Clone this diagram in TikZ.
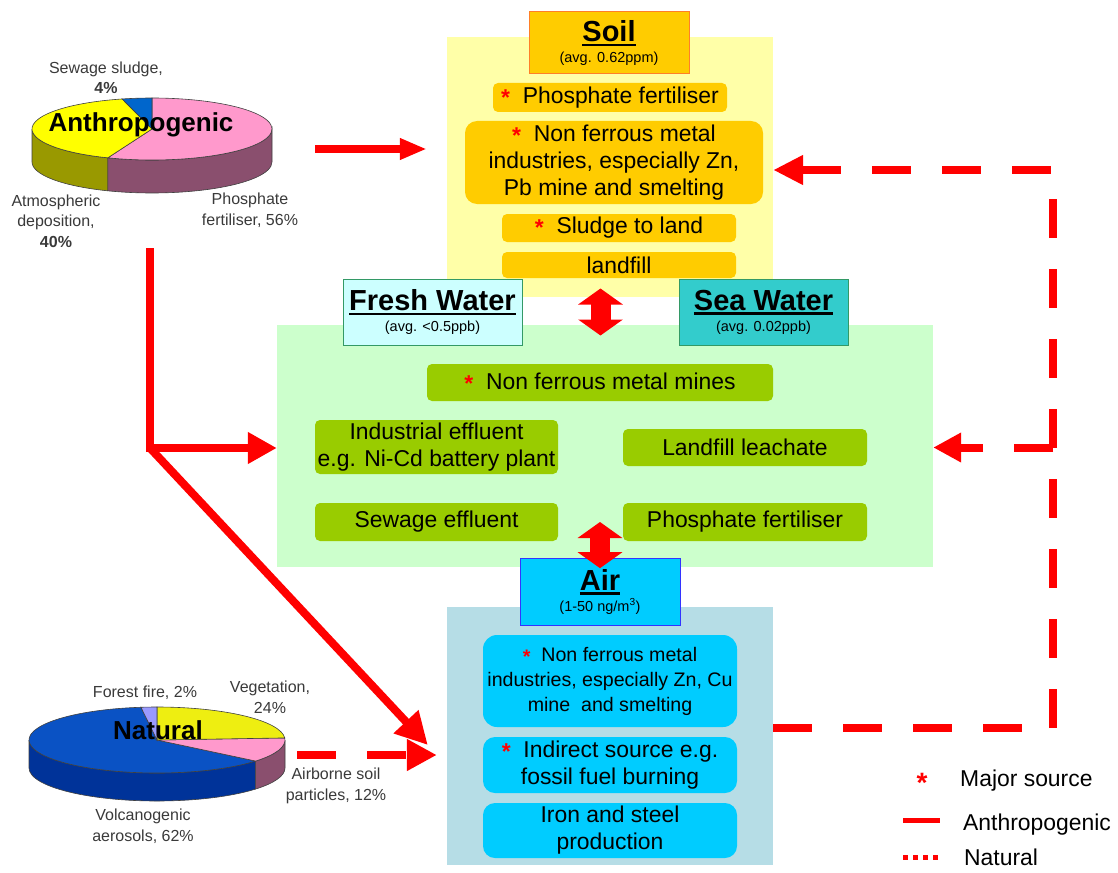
\documentclass[tikz,border=0pt]{standalone}
\usepackage{fontspec}
\setmainfont{Liberation Sans}
\usetikzlibrary{arrows.meta, calc}
\usepackage{xcolor}
\definecolor{soilBg}{HTML}{FFFFA8}
\definecolor{soilBox}{HTML}{FFCC00}
\definecolor{soilEdge}{HTML}{FF7F27}
\definecolor{waterBg}{HTML}{CCFFCC}
\definecolor{waterBox}{HTML}{99CC00}
\definecolor{freshFill}{HTML}{CCFFFF}
\definecolor{seaFill}{HTML}{33CCCC}
\definecolor{waterEdge}{HTML}{339966}
\definecolor{airBg}{HTML}{B6DDE6}
\definecolor{airBox}{HTML}{00CCFF}
\definecolor{airEdge}{HTML}{3333FF}
\definecolor{flowRed}{HTML}{FF0000}
\definecolor{labelInk}{HTML}{3A3A3A}
\definecolor{pieOlive}{HTML}{999900}
\definecolor{pieMauve}{HTML}{8A4F6E}
\definecolor{piePink}{HTML}{FF99CC}
\definecolor{pieYellow}{HTML}{FFFF00}
\definecolor{pieBlue}{HTML}{0066CC}
\definecolor{volcBlue}{HTML}{0A52C4}
\definecolor{volcSide}{HTML}{003399}
\definecolor{vegYellow}{HTML}{EEEE11}
\definecolor{fireLilac}{HTML}{9999FF}
\newlength\ttlwd
\newcommand\ttl[1]{\settowidth{\ttlwd}{#1}\rlap{\rule[-4.5pt]{\ttlwd}{2.2pt}}#1}
\newcommand\itemfont{\fontsize{22.9pt}{27pt}\selectfont}
\newcommand\subfont{\fontsize{14.5pt}{16pt}\selectfont}
\newcommand\majorsrc{\textcolor{flowRed}{\raisebox{-2pt}{\bfseries *}}\ \ }
\tikzset{
  panel/.style={fill=#1, inner sep=0pt},
  item/.style={fill=#1, rounded corners=5pt, inner sep=0pt, align=center, font=\itemfont},
  header/.style={fill=#1, line width=1pt, inner sep=0pt, align=center,
                 font=\fontsize{29pt}{21pt}\selectfont\bfseries},
  flow/.style={draw=flowRed, line width=8pt},
  natflow/.style={flow, dash pattern=on 39pt off 31pt},
  twoway/.style={draw=flowRed, line width=20pt,
                 {Triangle[width=44pt,length=16pt]}-{Triangle[width=44pt,length=16pt]}},
  pielabel/.style={font=\fontsize{16pt}{20.5pt}\selectfont, text=labelInk, align=center, inner sep=0pt},
  piename/.style={font=\fontsize{26pt}{28pt}\selectfont\bfseries, inner sep=0pt},
  rim/.style={draw=black!75, line width=0.6pt},
}

\begin{document}
\begin{tikzpicture}[x=1pt, y=1pt]
\path[use as bounding box, fill=white] (0,0) rectangle (1118,-872);

% compartments
\node[panel=soilBg, minimum width=326pt, minimum height=260pt] (soil) at (610,-167) {};
\node[panel=waterBg, minimum width=656pt, minimum height=242pt] (water) at (605,-446) {};
\node[panel=airBg, minimum width=326pt, minimum height=258pt] (air) at (610,-736) {};

\node[header=soilBox, draw=soilEdge, minimum width=160pt, minimum height=62pt] (soilT) at (609,-43)
  {\ttl{Soil}\\{\subfont\mdseries (avg. 0.62ppm)}};
\node[header=freshFill, draw=waterEdge, minimum width=179pt, minimum height=66pt] (freshT) at (432.5,-312)
  {\ttl{Fresh Water}\\{\subfont\mdseries (avg. <0.5ppb)}};
\node[header=seaFill, draw=waterEdge, minimum width=169pt, minimum height=66pt] (seaT) at (763.5,-312)
  {\ttl{Sea Water}\\{\subfont\mdseries (avg. 0.02ppb)}};
\node[header=airBox, draw=airEdge, minimum width=160pt, minimum height=67pt] (airT) at (600,-591.5)
  {\ttl{Air}\\{\subfont\mdseries (1-50 ng/m\textsuperscript{3})}};

% soil sources
\node[item=soilBox, minimum width=234pt, minimum height=29pt] (sPhos) at (610,-97.5) {\majorsrc Phosphate fertiliser};
\node[item=soilBox, rounded corners=12pt, minimum width=298pt, minimum height=83pt] (sNonf) at (614,-162.5)
  {\majorsrc Non ferrous metal\\industries, especially Zn,\\Pb mine and smelting};
\node[item=soilBox, minimum width=234pt, minimum height=28pt] (sSludge) at (619,-228) {\majorsrc Sludge to land};
\node[item=soilBox, minimum width=234pt, minimum height=26pt] (sLand) at (619,-265) {landfill};

% water sources
\node[item=waterBox, minimum width=346pt, minimum height=37pt] (wMines) at (600,-382.5) {\majorsrc Non ferrous metal mines};
\node[item=waterBox, minimum width=243pt, minimum height=54pt] (wInd) at (436.5,-447)
  {Industrial effluent\\e.g. Ni-Cd battery plant};
\node[item=waterBox, minimum width=244pt, minimum height=37pt] (wLeach) at (745,-447.5) {Landfill leachate};
\node[item=waterBox, minimum width=243pt, minimum height=38pt] (wSew) at (436.5,-522) {Sewage effluent};
\node[item=waterBox, minimum width=244pt, minimum height=38pt] (wPhos) at (745,-522) {Phosphate fertiliser};

% air sources
\node[item=airBox, rounded corners=14pt, minimum width=254pt, minimum height=92pt,
      font=\fontsize{19.6pt}{25pt}\selectfont] (aNonf) at (610,-681)
  {\majorsrc Non ferrous metal\\industries, especially Zn, Cu\\mine\ \ and smelting};
\node[item=airBox, rounded corners=12pt, minimum width=254pt, minimum height=56pt] (aInd) at (610,-765)
  {\majorsrc Indirect source e.g.\\fossil fuel burning};
\node[item=airBox, rounded corners=12pt, minimum width=254pt, minimum height=55pt] (aIron) at (610,-830.5)
  {Iron and steel\\production};

% exchange between compartments
\coordinate (gap) at ($(freshT.east)!0.5!(seaT.west)$);
\draw[twoway] ([yshift=23.5pt]gap) -- ([yshift=-23.5pt]gap);
\draw[twoway] (wSew.center -| airT.north) -- ([yshift=-1pt]water.south -| airT.north);

% anthropogenic pie
\begin{scope}[shift={(152,-129)}]
  \filldraw[rim, fill=pieOlive] (180:120 and 31) arc[start angle=180, end angle=248.4, x radius=120, y radius=31]
    -- ++(0,-33) arc[start angle=248.4, end angle=180, x radius=120, y radius=31] -- cycle;
  \filldraw[rim, fill=pieMauve] (248.4:120 and 31) arc[start angle=248.4, end angle=360, x radius=120, y radius=31]
    -- ++(0,-33) arc[start angle=360, end angle=248.4, x radius=120, y radius=31] -- cycle;
  \filldraw[rim, fill=piePink] (0,0) -- (248.4:120 and 31) arc[start angle=248.4, end angle=450, x radius=120, y radius=31] -- cycle;
  \filldraw[rim, fill=pieYellow] (0,0) -- (104.4:120 and 31) arc[start angle=104.4, end angle=248.4, x radius=120, y radius=31] -- cycle;
  \filldraw[rim, fill=pieBlue] (0,0) -- (90:120 and 31) arc[start angle=90, end angle=104.4, x radius=120, y radius=31] -- cycle;
\end{scope}
\node[piename] (anthroName) at (141,-125) {Anthropogenic};
\node[pielabel] (lblSludge) at (106,-78) {Sewage sludge,\\\textbf{4\%}};
\node[pielabel] (lblAtmos) at (56,-221) {Atmospheric\\deposition,\\\textbf{40\%}};
\node[pielabel] (lblPhos) at (250,-210) {Phosphate\\fertiliser, 56\%};

% natural pie
\begin{scope}[shift={(157,-740)}]
  \filldraw[rim, fill=volcSide] (180:128 and 33) arc[start angle=180, end angle=320.4, x radius=128, y radius=33]
    -- ++(0,-28) arc[start angle=320.4, end angle=180, x radius=128, y radius=33] -- cycle;
  \filldraw[rim, fill=pieMauve] (320.4:128 and 33) arc[start angle=320.4, end angle=360, x radius=128, y radius=33]
    -- ++(0,-28) arc[start angle=360, end angle=320.4, x radius=128, y radius=33] -- cycle;
  \filldraw[rim, fill=volcBlue] (0,0) -- (97.2:128 and 33) arc[start angle=97.2, end angle=320.4, x radius=128, y radius=33] -- cycle;
  \filldraw[rim, fill=piePink] (0,0) -- (320.4:128 and 33) arc[start angle=320.4, end angle=363.6, x radius=128, y radius=33] -- cycle;
  \filldraw[rim, fill=vegYellow] (0,0) -- (3.6:128 and 33) arc[start angle=3.6, end angle=90, x radius=128, y radius=33] -- cycle;
  \filldraw[rim, fill=fireLilac] (0,0) -- (90:128 and 33) arc[start angle=90, end angle=97.2, x radius=128, y radius=33] -- cycle;
\end{scope}
\node[piename] (natName) at (158,-730) {Natural};
\node[pielabel] (lblFire) at (145,-693) {Forest fire, 2\%};
\node[pielabel] (lblVeg) at (270,-697) {Vegetation,\\24\%};
\node[pielabel] (lblSoilPart) at (336,-786) {Airborne soil\\particles, 12\%};
\node[pielabel] (lblVolc) at (143,-826) {Volcanogenic\\aerosols, 62\%};

% anthropogenic inputs
\coordinate (anthroOut) at (315,-149);
\coordinate (anthroDown) at (150,-248);
\coordinate (split) at (150,-448);
\draw[flow, -{Triangle[width=20pt,length=27pt]}] (anthroOut) -- ([xshift=-20pt]soil.west |- anthroOut);
\draw[flow, -{Triangle[width=30pt,length=29pt]}] (anthroDown) -- (split) -- (water.west |- split);
\draw[flow, -{Triangle[width=32pt,length=32pt]}] (split) -- ([shift={(-19pt,-9pt)}]air.west);

% natural inputs
\coordinate (naturalOut) at (297,-755);
\coordinate (loopLow) at (1053,-728);
\coordinate (loopHigh) at (1053,-170);
\draw[natflow, -{Triangle[width=30pt,length=30pt]}] (naturalOut) -- ([xshift=-10pt]air.west |- naturalOut);
\draw[natflow, -{Triangle[width=28pt,length=30pt]}] ([yshift=8pt]air.east) -- (loopLow) -- (loopHigh) -- (soil.east |- loopHigh);
\draw[natflow, -{Triangle[width=28pt,length=28pt]}] (loopHigh |- wLeach) -- (water.east |- wLeach);

% key
\node[font=\itemfont, anchor=base west, inner sep=0pt] (keyMajor) at (960,-786) {Major source};
\node[font=\fontsize{28pt}{30pt}\selectfont\bfseries, anchor=base, inner sep=0pt, text=flowRed] (keyStar) at (922,-792) {*};
\node[font=\itemfont, anchor=base west, inner sep=0pt] (keyAnthro) at (963,-830) {Anthropogenic};
\node[font=\itemfont, anchor=base west, inner sep=0pt] (keyNat) at (964,-865) {Natural};
\draw[flowRed, line width=5pt] ([xshift=-60pt,yshift=10pt]keyAnthro.base west) -- ++(37,0);
\draw[flowRed, line width=5pt, dash pattern=on 5pt off 5pt] ([xshift=-61pt,yshift=8pt]keyNat.base west) -- ++(37,0);
\end{tikzpicture}
\end{document}
